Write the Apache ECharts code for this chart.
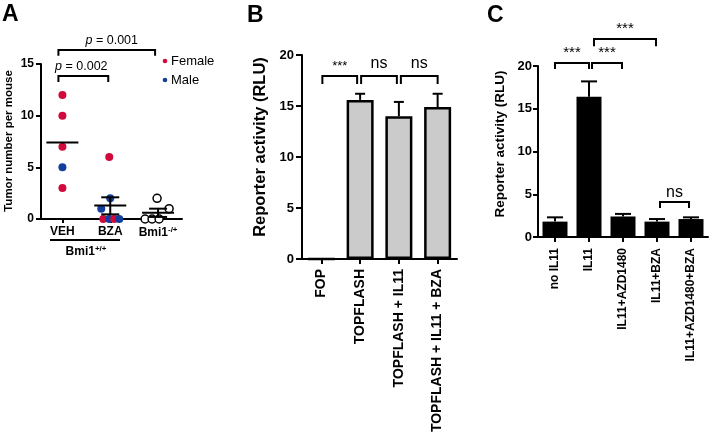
<!DOCTYPE html>
<html><head><meta charset="utf-8">
<script src="https://cdn.jsdelivr.net/npm/echarts@6/dist/echarts.min.js"></script>
<style>html,body{margin:0;padding:0;background:#fff}#c{width:709px;height:444px}</style>
</head><body><div id="c"></div>
<script>
const FONT = 'Liberation Sans, Arial, sans-serif';
const RED = '#d20a3c';
const BLUE = '#123f9e';

// ---------- Panel A data ----------
const catsA = ['VEH', 'BZA', 'Bmi1'];
const ticksA = [0, 5, 10, 15];
const vehValues = [12, 10, 7, 5, 3];
const vehSex = ['F', 'F', 'F', 'M', 'F'];
const bzaValues = [6, 2, 1, 0, 0, 0, 0];
const bzaSex = ['F', 'M', 'M', 'F', 'M', 'F', 'M'];
const bmiValues = [2, 1, 0, 0, 0];
const meanA = [7.4, 1.3, 0.6];
const semLowA = [null, 0.45, 0.2];
const semHighA = [null, 2.1, 1.0];
const pLabelsA = ['p = 0.001', 'p = 0.002'];

// ---------- Panel B data ----------
const catsB = ['FOP', 'TOPFLASH', 'TOPFLASH + IL11', 'TOPFLASH + IL11 + BZA'];
const ticksB = [0, 5, 10, 15, 20];
const meanB = [0, 15.6, 14.0, 14.9];
const upperB = [0, 16.2, 15.4, 16.2];
const sigLabelsB = ['***', 'ns', 'ns'];

// ---------- Panel C data ----------
const catsC = ['no IL11', 'IL11', 'IL11+AZD1480', 'IL11+BZA', 'IL11+AZD1480+BZA'];
const ticksC = [0, 5, 10, 15, 20];
const meanC = [1.8, 16.4, 2.4, 1.8, 2.1];
const upperC = [2.3, 18.2, 2.7, 2.1, 2.3];
const sigLabelsC = ['***', '***', '***', 'ns'];

// ---------- annotation geometry (style/position, not data) ----------
// jitter in px
const jitterVeh = [0, 0, 0, 0, 0];
const jitterBza = [-1, 0, -9, -7, -1, 4, 9];
const jitterBmi = [-1, 11, -13, -6, 1];
// brackets: [fromCat, toCat, yValue, legValue, dxFrom, dxTo, textDx]
const bracketsA = [[0, 2, 16.35, 15.8, -4, -3, 5], [0, 1, 13.84, 13.26, -4, -2, -2]];
const bracketsB = [[0, 1, 17.94, 17.16, 1, -3, 0], [1, 2, 17.94, 17.16, 1, -2, 0], [2, 3, 17.94, 17.16, 2, 0, 0]];
const bracketsC = [[0, 1, 20.35, 19.65, 0, 0, 0], [1, 2, 20.35, 19.65, 3, -1, 0], [1, 3, 23.15, 22.3, 5, -1, 0], [3, 4, 4.1, 3.4, 3, -2, 0]];

const axisLine = { show: true, lineStyle: { color: '#000', width: 2 } };
const axisTick = { show: true, length: 5, lineStyle: { color: '#000', width: 2 } };

function scatterData(vals, sex, jit, cat, open) {
  return vals.map((v, i) => ({
    value: [cat, v],
    symbolOffset: [jit[i], 0],
    itemStyle: open ? { color: '#fff', borderColor: '#000', borderWidth: 1.5, opacity: 1 }
                    : { color: sex[i] === 'M' ? BLUE : RED, opacity: 1 }
  }));
}

function bracketSeries(xi, yi, brackets, labels, fontSize, textGap, fontStyleFn) {
  return {
    type: 'custom', xAxisIndex: xi, yAxisIndex: yi, clip: false, z: 10, silent: true,
    data: brackets,
    renderItem: function (params, api) {
      const b = brackets[params.dataIndex];
      const p1 = api.coord([b[0], b[2]]);
      const p2 = api.coord([b[1], b[2]]);
      const l = api.coord([b[0], b[3]]);
      const x1 = p1[0] + b[4], x2 = p2[0] + b[5], y = p1[1], ly = l[1];
      const lab = labels[params.dataIndex];
      const isStar = lab === '***';
      return {
        type: 'group', children: [
          { type: 'polyline', shape: { points: [[x1, ly], [x1, y], [x2, y], [x2, ly]] },
            style: { stroke: '#000', lineWidth: 2, fill: null } },
          { type: 'text', x: (x1 + x2) / 2 + b[6], y: y - (isStar ? textGap[0] : textGap[1]),
            style: fontStyleFn(lab, isStar) }
        ]
      };
    }
  };
}

function errSeries(xi, yi, means, uppers, capHalf) {
  return {
    type: 'custom', xAxisIndex: xi, yAxisIndex: yi, z: 5, silent: true,
    data: means.map((m, i) => [i, m, uppers[i]]),
    renderItem: function (params, api) {
      const i = api.value(0);
      if (api.value(2) <= api.value(1)) return null;
      const b = api.coord([i, api.value(1)]);
      const t = api.coord([i, api.value(2)]);
      return {
        type: 'group', children: [
          { type: 'line', shape: { x1: b[0], y1: b[1], x2: t[0], y2: t[1] }, style: { stroke: '#000', lineWidth: 2 } },
          { type: 'line', shape: { x1: t[0] - capHalf, y1: t[1], x2: t[0] + capHalf, y2: t[1] }, style: { stroke: '#000', lineWidth: 2 } }
        ]
      };
    }
  };
}

const chart = echarts.init(document.getElementById('c'), null, { renderer: 'canvas' });

const option = {
  animation: false,
  backgroundColor: '#fff',
  textStyle: { fontFamily: FONT },
  grid: [
    { left: 38.5, top: 64, width: 143.5, height: 155 },
    { left: 302, top: 55, width: 155, height: 204 },
    { left: 538, top: 66, width: 170, height: 171 }
  ],
  xAxis: [
    { type: 'category', gridIndex: 0, data: catsA, axisLine, axisTick: Object.assign({}, axisTick, { alignWithLabel: true, length: 4, interval: 0 }),
      axisLabel: { margin: 7, interval: 0, color: '#000', fontFamily: FONT,
        formatter: v => v === 'Bmi1' ? '{b|Bmi1}{s|-/+}' : '{b|' + v + '}',
        rich: { b: { fontSize: 12, fontWeight: 'bold', fontFamily: FONT, color: '#000' },
                s: { fontSize: 8, fontWeight: 'bold', fontFamily: FONT, color: '#000', verticalAlign: 'top', padding: [0, 0, 6, 0] } } } },
    { type: 'category', gridIndex: 1, data: catsB, axisLine, axisTick: Object.assign({}, axisTick, { alignWithLabel: true, interval: 0 }),
      axisLabel: { rotate: 90, margin: 10, interval: 0, color: '#000', fontSize: 14, fontWeight: 'bold', fontFamily: FONT } },
    { type: 'category', gridIndex: 2, data: catsC, axisLine, axisTick: Object.assign({}, axisTick, { alignWithLabel: true, interval: 0 }),
      axisLabel: { rotate: 90, margin: 11, interval: 0, color: '#000', fontSize: 12, fontWeight: 'bold', fontFamily: FONT } }
  ],
  yAxis: [
    { type: 'value', gridIndex: 0, min: ticksA[0], max: ticksA[ticksA.length - 1], interval: ticksA[1] - ticksA[0], offset: -2.5,
      axisLine, axisTick, splitLine: { show: false },
      axisLabel: { margin: 7, color: '#000', fontSize: 12, fontWeight: 'bold', fontFamily: FONT } },
    { type: 'value', gridIndex: 1, min: ticksB[0], max: ticksB[ticksB.length - 1], interval: ticksB[1] - ticksB[0],
      axisLine, axisTick: Object.assign({}, axisTick, { length: 6 }), splitLine: { show: false },
      axisLabel: { margin: 8, color: '#000', fontSize: 13, fontWeight: 'bold', fontFamily: FONT } },
    { type: 'value', gridIndex: 2, min: ticksC[0], max: ticksC[ticksC.length - 1], interval: ticksC[1] - ticksC[0],
      axisLine, axisTick, splitLine: { show: false },
      axisLabel: { margin: 6, color: '#000', fontSize: 13, fontWeight: 'bold', fontFamily: FONT } }
  ],
  series: [
    // Panel A points
    { type: 'scatter', xAxisIndex: 0, yAxisIndex: 0, symbolSize: 8, z: 3, clip: false,
      data: scatterData(vehValues, vehSex, jitterVeh, 0, false) },
    { type: 'scatter', xAxisIndex: 0, yAxisIndex: 0, symbolSize: 8, z: 3, clip: false,
      data: scatterData(bzaValues, bzaSex, jitterBza, 1, false) },
    { type: 'scatter', xAxisIndex: 0, yAxisIndex: 0, symbolSize: 8, z: 3, clip: false,
      data: scatterData(bmiValues, null, jitterBmi, 2, true) },
    // Panel A mean +/- SEM
    { type: 'custom', xAxisIndex: 0, yAxisIndex: 0, z: 6, silent: true, clip: false,
      data: meanA.map((m, i) => [i, m, semLowA[i] == null ? m : semLowA[i], semHighA[i] == null ? m : semHighA[i]]),
      renderItem: function (params, api) {
        const i = api.value(0);
        const c = api.coord([i, api.value(1)]);
        const lo = api.coord([i, api.value(2)]);
        const hi = api.coord([i, api.value(3)]);
        const half = 16, cap = 9;
        const ch = [{ type: 'line', shape: { x1: c[0] - half, y1: c[1], x2: c[0] + half, y2: c[1] }, style: { stroke: '#000', lineWidth: 2 } }];
        if (api.value(3) > api.value(1)) {
          ch.push({ type: 'line', shape: { x1: lo[0], y1: lo[1], x2: hi[0], y2: hi[1] }, style: { stroke: '#000', lineWidth: 2 } });
          ch.push({ type: 'line', shape: { x1: hi[0] - cap, y1: hi[1], x2: hi[0] + cap, y2: hi[1] }, style: { stroke: '#000', lineWidth: 2 } });
          ch.push({ type: 'line', shape: { x1: lo[0] - cap, y1: lo[1], x2: lo[0] + cap, y2: lo[1] }, style: { stroke: '#000', lineWidth: 2 } });
        }
        return { type: 'group', children: ch };
      } },
    bracketSeries(0, 0, bracketsA, pLabelsA, 12, [3, 3], (lab) => ({
      text: '{i|p}{n|' + lab.slice(1) + '}', align: 'center', verticalAlign: 'bottom',
      rich: { i: { fontStyle: 'italic', fontSize: 12.5, fontFamily: FONT, fill: '#000' },
              n: { fontSize: 12.5, fontFamily: FONT, fill: '#000' } } })),

    // Panel B bars
    { type: 'bar', xAxisIndex: 1, yAxisIndex: 1, barWidth: 27, z: 2,
      data: meanB,
      itemStyle: { color: '#cbcbcb', borderColor: '#000', borderWidth: 2.5 } },
    errSeries(1, 1, meanB, upperB, 5),
    bracketSeries(1, 1, bracketsB, sigLabelsB, 14, [3, 4], (lab, star) => ({
      text: lab, align: 'center', verticalAlign: 'bottom', fill: '#000', fontFamily: FONT,
      fontSize: star ? 13 : 16 })),

    // Panel C bars
    { type: 'bar', xAxisIndex: 2, yAxisIndex: 2, barWidth: 25, z: 2,
      data: meanC, itemStyle: { color: '#000' } },
    errSeries(2, 2, meanC, upperC, 8),
    bracketSeries(2, 2, bracketsC, sigLabelsC, 14, [3, 1], (lab, star) => ({
      text: lab, align: 'center', verticalAlign: 'bottom', fill: '#000', fontFamily: FONT,
      fontSize: star ? 15 : 16 }))
  ],
  graphic: [
    { type: 'text', left: 2, top: 3, style: { text: 'A', fontSize: 23, fontWeight: 'bold', fontFamily: FONT, fill: '#000' } },
    { type: 'text', left: 247, top: 4, style: { text: 'B', fontSize: 23, fontWeight: 'bold', fontFamily: FONT, fill: '#000' } },
    { type: 'text', left: 487, top: 4, style: { text: 'C', fontSize: 23, fontWeight: 'bold', fontFamily: FONT, fill: '#000' } },
    { type: 'text', x: 9, y: 141, rotation: Math.PI / 2,
      style: { text: 'Tumor number per mouse', align: 'center', verticalAlign: 'middle', fontSize: 11.5, fontWeight: 'bold', fontFamily: FONT, fill: '#000' } },
    { type: 'text', x: 260, y: 147, rotation: Math.PI / 2,
      style: { text: 'Reporter activity (RLU)', align: 'center', verticalAlign: 'middle', fontSize: 16.5, fontWeight: 'bold', fontFamily: FONT, fill: '#000' } },
    { type: 'text', x: 500, y: 144, rotation: Math.PI / 2,
      style: { text: 'Reporter activity (RLU)', align: 'center', verticalAlign: 'middle', fontSize: 13.5, fontWeight: 'bold', fontFamily: FONT, fill: '#000' } },
    { type: 'circle', shape: { cx: 165, cy: 61, r: 2.3 }, style: { fill: RED } },
    { type: 'text', x: 171, y: 61, style: { text: 'Female', verticalAlign: 'middle', fontSize: 13, fontFamily: FONT, fill: '#000' } },
    { type: 'circle', shape: { cx: 165, cy: 80, r: 2.3 }, style: { fill: BLUE } },
    { type: 'text', x: 171, y: 80, style: { text: 'Male', verticalAlign: 'middle', fontSize: 13, fontFamily: FONT, fill: '#000' } },
    { type: 'line', shape: { x1: 50, y1: 240, x2: 120, y2: 240 }, style: { stroke: '#000', lineWidth: 2 } },
    { type: 'text', x: 86, y: 252,
      style: { text: '{b|Bmi1}{s|+/+}', align: 'center', verticalAlign: 'middle',
        rich: { b: { fontSize: 12, fontWeight: 'bold', fontFamily: FONT, fill: '#000' },
                s: { fontSize: 8, fontWeight: 'bold', fontFamily: FONT, fill: '#000', verticalAlign: 'top', padding: [0, 0, 6, 0] } } } }
  ]
};
chart.setOption(option);
</script>
</body></html>
